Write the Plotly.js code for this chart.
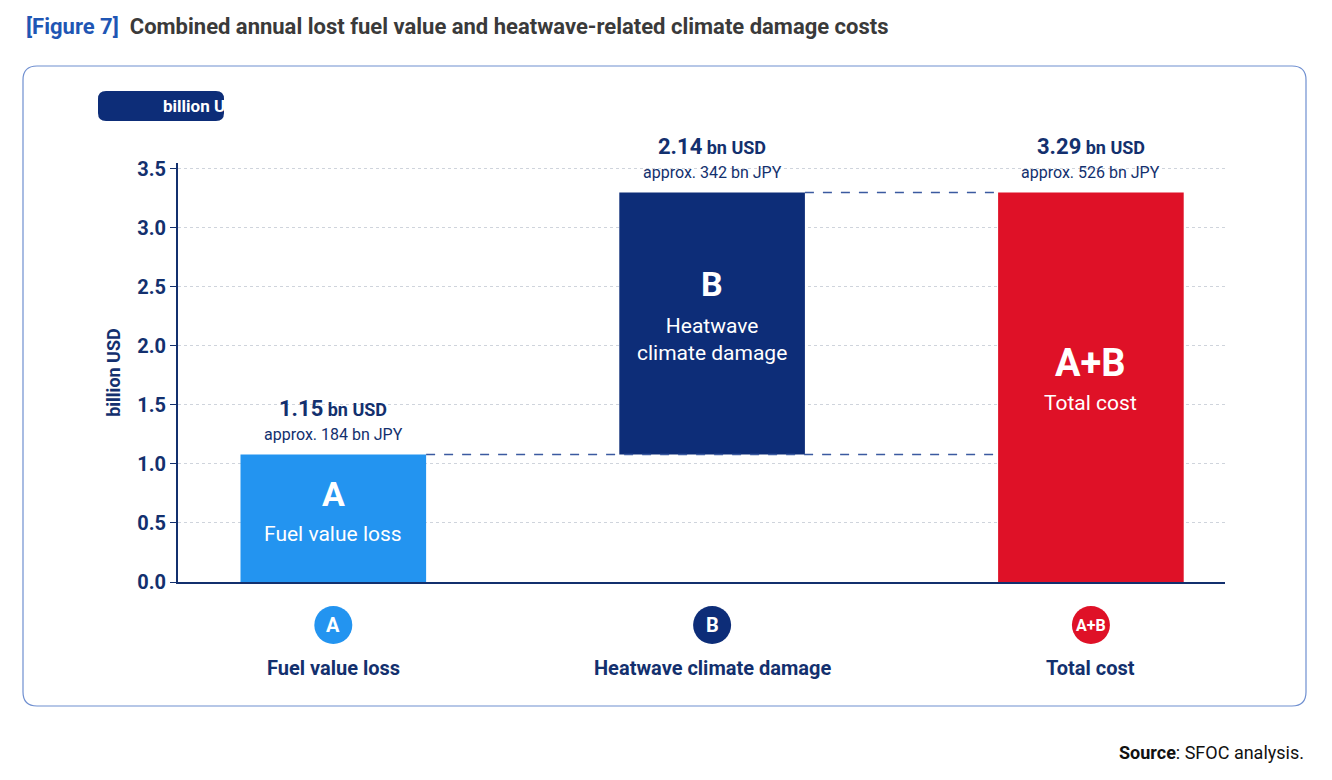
<!DOCTYPE html>
<html><head><meta charset="utf-8">
<script src="https://cdn.plot.ly/plotly-3.0.1.min.js"></script>
<style>body{margin:0;background:#fff}#c{width:1332px;height:780px}</style>
</head><body><div id="c"></div>
<script>
const categories = ["A", "B", "A+B"];
const categoryNames = ["Fuel value loss", "Heatwave climate damage", "Total cost"];
const barBase = [0, 1.08, 0];
const barHeight = [1.08, 2.22, 3.30];
const valueUSD = ["1.15", "2.14", "3.29"];
const valueJPY = ["184", "342", "526"];
const innerSub = ["Fuel value loss", "Heatwave<br>climate damage", "Total cost"];
const colors = ["#2394f0", "#0d2d78", "#df1127"];
const yTicks = [0, 0.5, 1, 1.5, 2, 2.5, 3, 3.5];

const L = 178, R = 1225, T = 163, B = 582;
const px = v => (v - L) / (R - L);
const py = v => (B - v) / (B - T);
const F = "Roboto, 'Noto Sans', sans-serif";
const navy = "#13306e";

function rr(x0, y0, x1, y1, r) {
  const X = px, Y = py;
  return `M${X(x0+r)},${Y(y0)} L${X(x1-r)},${Y(y0)} Q${X(x1)},${Y(y0)} ${X(x1)},${Y(y0+r)} L${X(x1)},${Y(y1-r)} Q${X(x1)},${Y(y1)} ${X(x1-r)},${Y(y1)} L${X(x0+r)},${Y(y1)} Q${X(x0)},${Y(y1)} ${X(x0)},${Y(y1-r)} L${X(x0)},${Y(y0+r)} Q${X(x0)},${Y(y0)} ${X(x0+r)},${Y(y0)} Z`;
}

const bw = 0.49;
const trace = {
  type: "bar", x: categories, y: barHeight, base: barBase,
  width: bw, marker: {color: colors}, hoverinfo: "none"
};

const ann = [];
const shapes = [];
const A = o => { o.showarrow = false; o.yanchor = o.yanchor || "middle"; ann.push(o); };
shapes.push({type:"path", xref:"paper", yref:"paper", path: rr(23, 66, 1306, 706, 14), line:{color:"#6f8fd0", width:1.2}, fillcolor:"rgba(0,0,0,0)", layer:"below"});
shapes.push({type:"path", xref:"paper", yref:"paper", path: rr(98, 91, 224, 121, 8), line:{width:0}, fillcolor:"#0d2d78"});
A({xref:"paper", yref:"paper", x:px(161), y:py(106), text:"<b>billion USD</b>", font:{family:F, size:17, color:"#fff"}});
A({xref:"paper", yref:"paper", x:px(24), y:py(27), xanchor:"left", text:"<b><span style='color:#1f56b4'>[Figure 7]</span>  Combined annual lost fuel value and heatwave-related climate damage costs</b>", font:{family:F, size:22, color:"#3a3a3a"}});
A({xref:"paper", yref:"paper", x:px(1306), y:py(752), xanchor:"right", text:"<b>Source</b>: SFOC analysis.", font:{family:F, size:18, color:"#111"}});

for (let i = 0; i < categories.length; i++) {
  const top = barBase[i] + barHeight[i];
  A({x:i, y:top, yshift:46, text:`<b><span style="font-size:22px">${valueUSD[i]}</span></b> <b>bn USD</b>`, font:{family:F, size:18, color:navy}});
  A({x:i, y:top, yshift:20, text:`approx. ${valueJPY[i]} bn JPY`, font:{family:F, size:16, color:navy}});
  const mid = barBase[i] + barHeight[i] / 2;
  const big = i === 2 ? 38 : 34;
  A({x:i, y:mid, yshift: i===1 ? 40 : 24, text:`<b>${categories[i]}</b>`, font:{family:F, size:big, color:"#fff"}});
  A({x:i, y:mid, yshift: -16, text:innerSub[i], font:{family:F, size:21, color:"#fff"}});
  shapes.push({type:"circle", xref:"x", yref:"paper", xsizemode:"pixel", ysizemode:"pixel", xanchor:i, yanchor:py(625), x0:-19, x1:19, y0:-19, y1:19, fillcolor:colors[i], line:{width:0}});
  A({x:i, xref:"x", yref:"paper", y:py(625), text:`<b>${categories[i]}</b>`, font:{family:F, size: i===2?16:20, color:"#fff"}});
  A({x:i, xref:"x", yref:"paper", y:py(668), text:`<b>${categoryNames[i]}</b>`, font:{family:F, size:20, color:navy}});
}
shapes.push({type:"line", x0:0+bw/2, x1:2-bw/2, y0:barHeight[0], y1:barHeight[0], line:{color:"#3b5aa0", width:1.5, dash:"dash"}});
shapes.push({type:"line", x0:1+bw/2, x1:2-bw/2, y0:barBase[1]+barHeight[1], y1:barBase[1]+barHeight[1], line:{color:"#3b5aa0", width:1.5, dash:"dash"}});

const layout = {
  width:1332, height:780, margin:{l:L, r:1332-R, t:T, b:780-B},
  paper_bgcolor:"#fff", plot_bgcolor:"#fff", showlegend:false,
  xaxis:{type:"category", range:[-0.41, 2.354], showticklabels:false, showgrid:false, zeroline:false, showline:true, linecolor:navy, linewidth:2, ticks:""},
  yaxis:{range:[0, 3.55], tickvals:yTicks, ticktext:yTicks.map(v=>"<b>"+v.toFixed(1)+"</b>"), ticks:"outside", ticklen:6, tickcolor:navy, showline:true, linecolor:navy, linewidth:2,
    gridcolor:"#cfd4dc", griddash:"dot", zeroline:false, tickfont:{family:F, size:20, color:navy},
    title:{text:"<b>billion USD</b>", font:{family:F, size:18, color:navy}, standoff:12}},
  annotations: ann, shapes: shapes
};
Plotly.newPlot("c", [trace], layout, {staticPlot:true});
</script></body></html>
